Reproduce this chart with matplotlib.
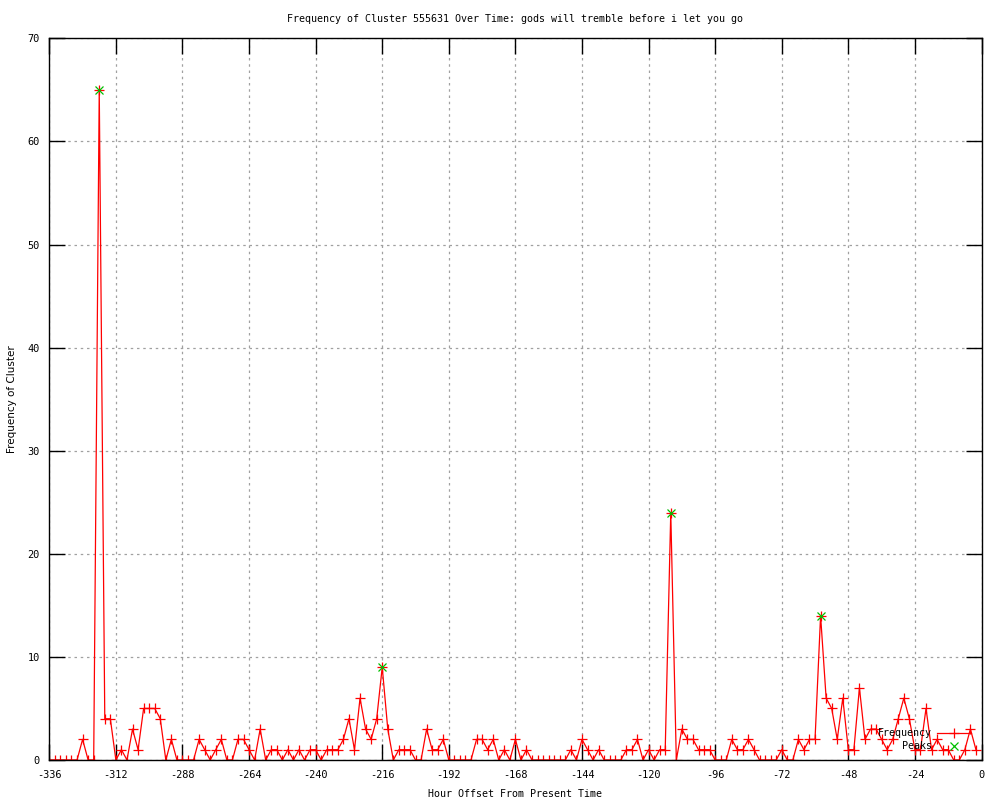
import numpy as np
import matplotlib
matplotlib.use("Agg")
import matplotlib.pyplot as plt

plt.rcParams['axes.unicode_minus'] = False
plt.rcParams['font.family'] = ['DejaVu Sans Mono']

# hour offsets, one sample every 2 hours
hours = np.arange(-336, 0, 2)
freq = [
    0, 0, 0, 0, 0, 0, 2, 0, 0, 65, 4, 4,          # -336 .. -314
    0, 1, 0, 3, 1, 5, 5, 5, 4, 0, 2, 0,           # -312 .. -290
    0, 0, 0, 2, 1, 0, 1, 2, 0, 0, 2, 2,           # -288 .. -266
    1, 0, 3, 0, 1, 1, 0, 1, 0, 1, 0, 1,           # -264 .. -242
    1, 0, 1, 1, 1, 2, 4, 1, 6, 3, 2, 4,           # -240 .. -218
    9, 3, 0, 1, 1, 1, 0, 0, 3, 1, 1, 2,           # -216 .. -194
    0, 0, 0, 0, 0, 2, 2, 1, 2, 0, 1, 0,           # -192 .. -170
    2, 0, 1, 0, 0, 0, 0, 0, 0, 0, 1, 0,           # -168 .. -146
    2, 1, 0, 1, 0, 0, 0, 0, 1, 1, 2, 0,           # -144 .. -122
    1, 0, 1, 1, 24, 0, 3, 2, 2, 1, 1, 1,          # -120 .. -98
    0, 0, 0, 2, 1, 1, 2, 1, 0, 0, 0, 0,           # -96 .. -74
    1, 0, 0, 2, 1, 2, 2, 14, 6, 5, 2, 6,          # -72 .. -50
    1, 1, 7, 2, 3, 3, 2, 1, 2, 4, 6, 4,           # -48 .. -26
    1, 1, 5, 1, 2, 1, 1, 0, 0, 1, 3, 1,           # -24 .. -2
]

peak_hours = [-318, -216, -112, -58]
peak_vals = [65, 9, 24, 14]

x_ticks = np.arange(-336, 1, 24)
y_ticks = np.arange(0, 71, 10)

fig = plt.figure(figsize=(10, 8), dpi=100)
ax = fig.add_axes([0.0493, 0.05, 0.9322, 0.902])

ax.plot(hours, freq, color='red', lw=0.9, marker='+', ms=6.5, mew=0.9,
        label='Frequency')
ax.plot(peak_hours, peak_vals, ls='none', color='#00c000', marker='x',
        ms=5.5, mew=0.9, label='    Peaks')

ax.set_xlim(-336, 0)
ax.set_ylim(0, 70)
ax.set_xticks(x_ticks)
ax.set_yticks(y_ticks)
ax.tick_params(direction='in', length=11.5, width=1, top=True, right=True,
               labelsize=7.4, colors='black')
ax.tick_params(axis='x', pad=7)
ax.tick_params(axis='y', pad=7)
ax.grid(True, color='#a0a0a0', ls=(0, (2, 3)), lw=0.9)
ax.set_axisbelow(True)
for s in ax.spines.values():
    s.set_linewidth(1.0)

ax.set_title('Frequency of Cluster 555631 Over Time: gods will tremble before i let you go',
             fontsize=7.2, pad=11.5)
ax.set_xlabel('Hour Offset From Present Time', fontsize=7.2, labelpad=6.5)
ax.set_ylabel('Frequency of Cluster', fontsize=7.5, family='DejaVu Sans', labelpad=7.5)

ax.legend(loc='lower right', bbox_to_anchor=(0.989, 0.012), frameon=False,
          markerfirst=False, fontsize=7.2, handlelength=3.4, handletextpad=0.55,
          labelspacing=0.3, borderpad=0, borderaxespad=0)

fig.savefig('out.png', dpi=100)
